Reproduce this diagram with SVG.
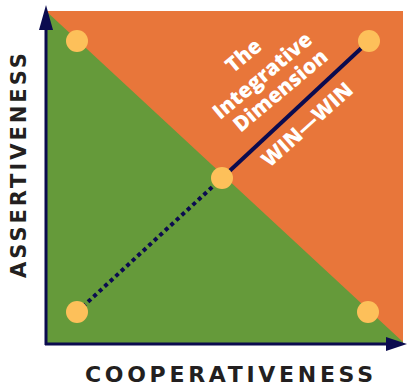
<svg xmlns="http://www.w3.org/2000/svg" width="407" height="387" viewBox="0 0 407 387">
<style>
.dot{fill:#FDC05A}
.axis{stroke:#0B0B4F;stroke-width:3;fill:none}
.ax{fill:#231F20;font-family:"DejaVu Sans",sans-serif;font-weight:bold}
.wt{fill:#FFFFFF;font-family:"Open Sans","DejaVu Sans",sans-serif;font-weight:800;font-size:21px;text-anchor:middle}
</style>
<rect width="407" height="387" fill="#FFFFFF"/>
<g id="field">
<rect x="46" y="11" width="357" height="333" fill="#659A3A"/>
<polygon points="46,11 403,11 403,342" fill="#E8763A"/>
</g>
<g id="connectors">
<line x1="222" y1="178" x2="369" y2="41" stroke="#0B0B4F" stroke-width="4"/>
<line x1="77" y1="312" x2="222" y2="178" stroke="#0B0B4F" stroke-width="4" stroke-dasharray="4 3.5"/>
</g>
<g id="axes">
<line class="axis" x1="46" y1="345" x2="46" y2="25"/>
<polygon points="46,5 39,30 53,30" fill="#0B0B4F"/>
<line class="axis" x1="45" y1="344" x2="390" y2="344"/>
<polygon points="407,344 386,337 386,351" fill="#0B0B4F"/>
</g>
<g id="n-top-left"><circle class="dot" cx="77" cy="41" r="11"/></g>
<g id="n-top-right"><circle class="dot" cx="369" cy="41" r="11"/></g>
<g id="n-center"><circle class="dot" cx="222" cy="178" r="11"/></g>
<g id="n-bottom-left"><circle class="dot" cx="77" cy="312" r="11"/></g>
<g id="n-bottom-right"><circle class="dot" cx="368" cy="312" r="11"/></g>
<g id="labels">
<text class="wt" transform="translate(248,61) rotate(-40)">The</text>
<text class="wt" transform="translate(267,81) rotate(-40)">Integrative</text>
<text class="wt" transform="translate(285,96) rotate(-40)">Dimension</text>
<text class="wt" font-size="22" transform="translate(312,130) rotate(-42)">WIN—WIN</text>
<text class="ax" font-size="21" transform="translate(26,278) rotate(-90)" textLength="225" lengthAdjust="spacing">ASSERTIVENESS</text>
<text class="ax" font-size="22" x="85" y="382" textLength="288" lengthAdjust="spacing">COOPERATIVENESS</text>
</g>
</svg>
